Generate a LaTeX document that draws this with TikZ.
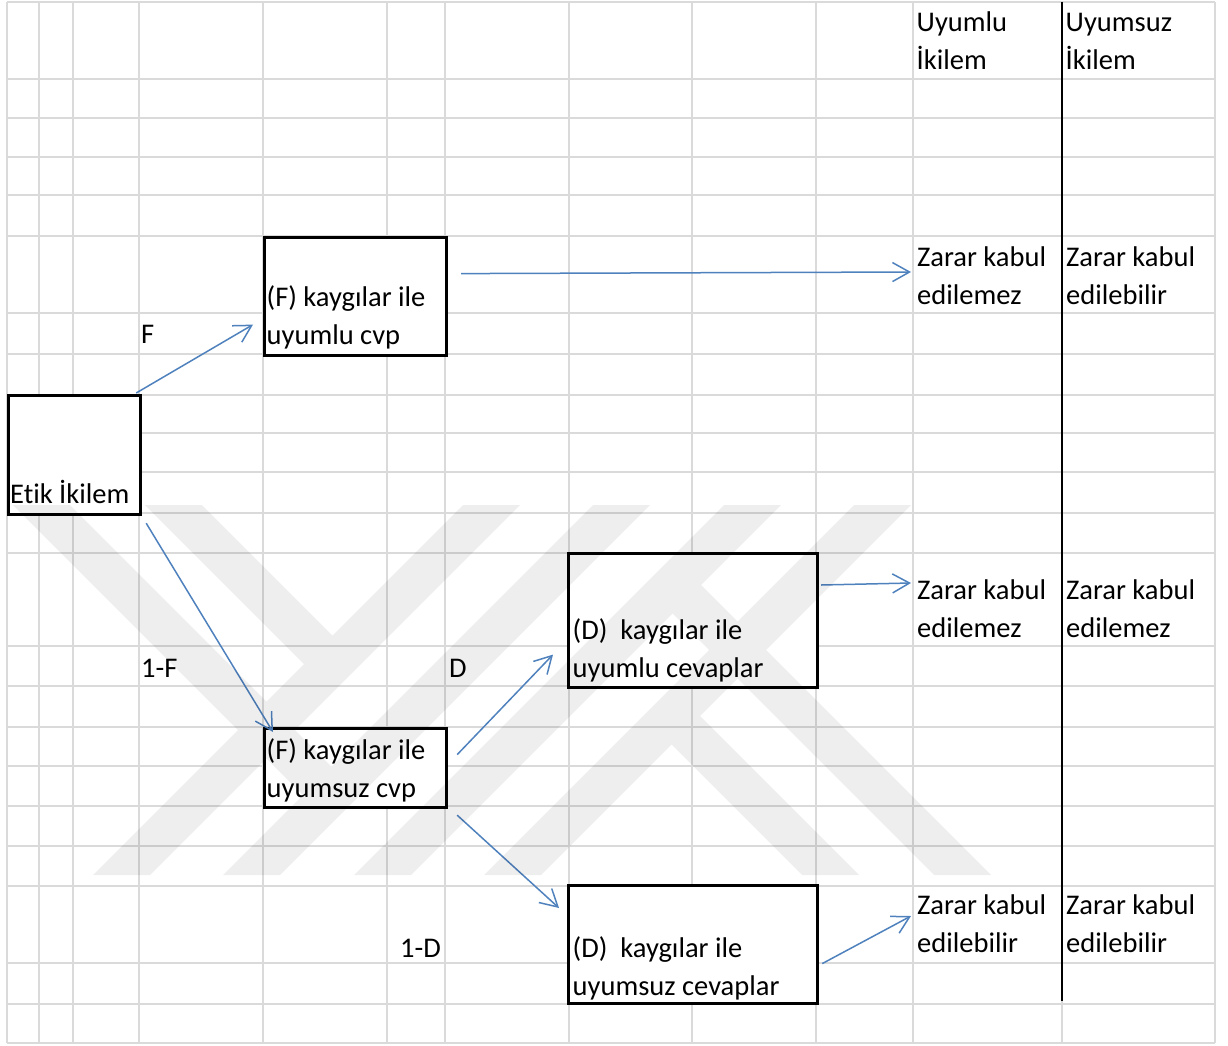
\documentclass[tikz,border=0pt]{standalone}
\usepackage{fontspec}
\setmainfont{Carlito}[Ligatures=NoCommon]
\usepackage{tikz}
\usetikzlibrary{arrows.meta}
\definecolor{cGrid}{RGB}{218,218,218}
\definecolor{cArrow}{RGB}{79,129,189}
\newcommand{\cellfont}{\fontsize{28.5}{38}\selectfont}

\begin{document}
\begin{tikzpicture}[x=1pt,y=-1pt,
    gridline/.style={draw=cGrid,line width=2pt},
    cellbox/.style={rectangle,draw,line width=3.2pt,fill=white,anchor=north west,inner sep=0pt},
    celltext/.style={anchor=base west,inner sep=0pt,align=left,font=\cellfont},
    arr/.style={-{Straight Barb[length=17pt,width=19pt]},cArrow,line width=1.5pt}
  ]
  \useasboundingbox (0,0) rectangle (1228,1046);
  % sheet grid
  \foreach \gx in {7,39,73,139,263,387,445,569,692,816,913,1062,1215}
    \draw[gridline] (\gx,2) -- (\gx,1043);
  \foreach \gy in {2,79,118,157,195,236,313,354,395,433,472,513,553,646,686,727,766,806,846,886,963,1004,1043}
    \draw[gridline] (7,\gy) -- (1215,\gy);
  \draw[line width=2.2pt] (1062,2) -- (1062,1001);

  % boxes
  \node[cellbox,minimum width=132pt,minimum height=119pt] (etik) at (7,394) {};
  \node[cellbox,minimum width=182pt,minimum height=118pt] (fuyumlu) at (263,236) {};
  \node[cellbox,minimum width=182pt,minimum height=79pt] (fuyumsuz) at (263,727) {};
  \node[cellbox,minimum width=249pt,minimum height=134pt] (duyumlu) at (567,552) {};
  \node[cellbox,minimum width=249pt,minimum height=118pt] (duyumsuz) at (567,884) {};

  % texts sit on the baseline of their last line
  \node[celltext] (etiktxt) at (10,503) {Etik İkilem};
  \node[celltext] (fuyumlutxt) at (266.5,344) {(F) kaygılar ile\\uyumlu cvp};
  \node[celltext] (fuyumsuztxt) at (266.5,797) {(F) kaygılar ile\\uyumsuz cvp};
  \node[celltext] (duyumlutxt) at (572.5,677) {(D)\ \ kaygılar ile\\uyumlu cevaplar};
  \node[celltext] (duyumsuztxt) at (572.5,995) {(D)\ \ kaygılar ile\\uyumsuz cevaplar};

  % columns on the right
  \node[celltext] (head1) at (916.5,70) {Uyumlu\\İkilem};
  \node[celltext] (head2) at (1065.5,70) {Uyumsuz\\İkilem};
  \node[celltext] (zarar1) at (917,304) {Zarar kabul\\edilemez};
  \node[celltext] (zarar1b) at (1066,304) {Zarar kabul\\edilebilir};
  \node[celltext] (zarar2) at (917,637) {Zarar kabul\\edilemez};
  \node[celltext] (zarar2b) at (1066,637) {Zarar kabul\\edilemez};
  \node[celltext] (zarar3) at (917,952) {Zarar kabul\\edilebilir};
  \node[celltext] (zarar3b) at (1066,952) {Zarar kabul\\edilebilir};

  % branch labels
  \node[celltext] (lblF) at (141,343) {F};
  \node[celltext] (lbl1F) at (141,677) {1-F};
  \node[celltext] (lblD) at (449,677) {D};
  \node[celltext,anchor=base east] (lbl1D) at (441,957) {1-D};

  \draw[arr] ([xshift=-6pt,yshift=1pt]etik.north east) -- ([xshift=-10pt,yshift=-28pt]fuyumlu.west);
  \draw[arr] ([xshift=4pt,yshift=-7pt]etik.south east) -- ([xshift=10pt,yshift=-5pt]fuyumsuz.north west);
  \draw[arr] ([xshift=13pt,yshift=23pt]fuyumlu.east) -- ([xshift=-6pt,yshift=32pt]zarar1.base west);
  \draw[arr] ([xshift=2pt,yshift=-33pt]duyumlu.north east) -- ([xshift=-6pt,yshift=54pt]zarar2.base west);
  \draw[arr] ([xshift=9pt,yshift=13.5pt]fuyumsuz.east) -- ([xshift=-14pt,yshift=-34pt]duyumlu.west);
  \draw[arr] ([xshift=9pt,yshift=-6pt]fuyumsuz.south east) -- ([xshift=-8pt,yshift=-24pt]duyumsuz.north west);
  \draw[arr] ([xshift=3pt,yshift=-19pt]duyumsuz.east) -- ([xshift=-6pt,yshift=36pt]zarar3.base west);

  % faint watermark over the sheet
  \fill[black,fill opacity=0.065]
    (463,505) -- (520,505) -- (150,875) -- (93,875) -- cycle
    (593,505) -- (650,505) -- (280,875) -- (223,875) -- cycle
    (724,505) -- (781,505) -- (411,875) -- (354,875) -- cycle
    (854,505) -- (911,505) -- (541,875) -- (484,875) -- cycle
    (13,505) -- (70,505) -- (331.5,766.5) -- (303,795) -- cycle
    (145,505) -- (202,505) -- (332.5,635.5) -- (304,664) -- cycle
    (991,875) -- (934,875) -- (672.5,613.5) -- (701,585) -- cycle
    (859,875) -- (802,875) -- (671.5,744.5) -- (700,716) -- cycle;
\end{tikzpicture}
\end{document}
